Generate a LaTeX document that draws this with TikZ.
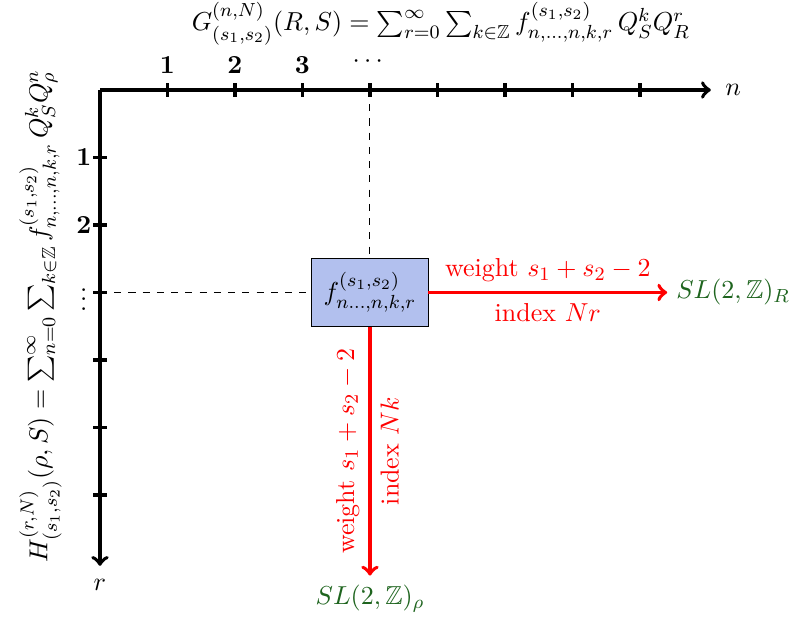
\documentclass[tikz,border=0pt,11pt]{standalone}
\usepackage{amsmath,amssymb}
\definecolor{boxblue}{RGB}{178,192,238}
\definecolor{dgreen}{RGB}{30,100,30}
\tikzset{
  axis/.style={ultra thick,->},
  tck/.style={ultra thick},
  redarr/.style={red,ultra thick,->},
  lab/.style={red},
  coef/.style={draw,fill=boxblue,minimum width=1.72cm,minimum height=1cm,inner sep=1pt},
  grp/.style={text=dgreen},
}
\begin{document}
\begin{tikzpicture}
\useasboundingbox (-1.481,-7.852) rectangle (10.519,1.333);
% axes
\coordinate (O) at (0,0);
\coordinate (xe) at (9.05,0);
\coordinate (ye) at (0,-7.05);
\draw[axis] (O) -- (xe);
\draw[axis] (O) -- (ye);
\node (nlab) at (9.38,0) {$n$};
\node (rlab) at (0,-7.33) {$r$};
\foreach \i in {1,...,8} \draw[tck] (\i,0.1) -- (\i,-0.1);
\foreach \i in {1,...,6} \draw[tck] (-0.1,-\i) -- (0.1,-\i);
\node (t1) at (1,0.37) {$\mathbf{1}$};
\node (t2) at (2,0.37) {$\mathbf{2}$};
\node (t3) at (3,0.37) {$\mathbf{3}$};
\node (t4) at (4,0.42) {$\cdots$};
\node (l1) at (-0.24,-1) {$\mathbf{1}$};
\node (l2) at (-0.24,-2) {$\mathbf{2}$};
\node[inner sep=0pt] (l3) at (-0.24,-3) {$\boldsymbol{\vdots}$};
% box
\node[coef] (f) at (4,-3) {$f^{(s_1,s_2)}_{n\ldots,n,k,r}$};
\coordinate (xt) at (4,0);
\coordinate (yt) at (0,-3);
\draw[dashed] (xt) -- (f.north);
\draw[dashed] (yt) -- (f.west);
% targets
\node[grp] (slr) at (9.38,-3) {$SL(2,\mathbb{Z})_R$};
\node[grp] (slp) at (4,-7.53) {$SL(2,\mathbb{Z})_\rho$};
\draw[redarr] (f.east) -- (slr.west)
  node[midway,above,lab] {weight $s_1+s_2-2$}
  node[midway,below,lab] {index $Nr$};
\draw[redarr] (f.south) -- (slp.north)
  node[midway,left,lab,rotate=90,anchor=south] {weight $s_1+s_2-2$}
  node[midway,right,lab,rotate=90,anchor=north] {index $Nk$};
% formulas
\node[anchor=base,inner sep=0pt] (G) at (5.05,0.88) {$G^{(n,N)}_{(s_1,s_2)}(R,S) = \sum_{r=0}^{\infty} \sum_{k\in\mathbb{Z}} f^{(s_1,s_2)}_{n,\ldots,n,k,r}\, Q_S^k Q_R^r$};
\node[rotate=90,inner sep=0pt] (H) at (-0.88,-3.35) {$H^{(r,N)}_{(s_1,s_2)}(\rho,S) = \sum_{n=0}^{\infty} \sum_{k\in\mathbb{Z}} f^{(s_1,s_2)}_{n,\ldots,n,k,r}\, Q_S^k Q_\rho^n$};
\end{tikzpicture}
\end{document}
